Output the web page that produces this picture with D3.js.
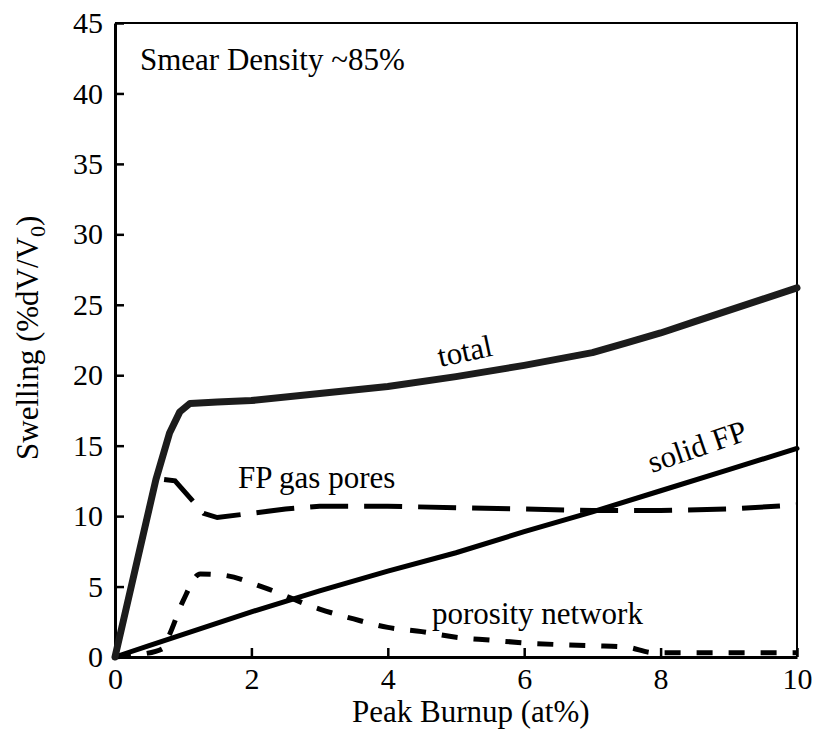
<!DOCTYPE html>
<html>
<head>
    <title>Swelling vs Peak Burnup</title>
    <script src="https://d3js.org/d3.v7.min.js"></script>
    <style>
        body { margin: 0; background: #fff; }
    </style>
</head>
<body>
    <div id="chart"></div>
    <script>
        // values
        var xTicks = [0, 2, 4, 6, 8, 10];
        var yTicks = [0, 5, 10, 15, 20, 25, 30, 35, 40, 45];

        var totalBurnup = [0, 0.3, 0.6, 0.8, 0.95, 1.1, 1.5, 2, 3, 4, 5, 6, 7, 7.5, 8, 8.5, 9, 9.5, 10];
        var totalSwell = [0, 6.3, 12.6, 15.9, 17.4, 18.0, 18.1, 18.2, 18.7, 19.2, 19.9, 20.7, 21.6, 22.3, 23.0, 23.8, 24.6, 25.4, 26.2];

        var solidBurnup = [0, 0.5, 1, 2, 3, 4, 5, 6, 7, 8, 9, 10];
        var solidSwell = [0, 0.8, 1.6, 3.2, 4.7, 6.1, 7.4, 8.9, 10.3, 11.8, 13.3, 14.8];

        var gasBurnup = [0.72, 0.88, 1.3, 1.5, 2, 2.5, 3, 4, 5, 6, 7, 8, 9, 10];
        var gasSwell = [12.6, 12.5, 10.2, 9.9, 10.2, 10.5, 10.7, 10.7, 10.6, 10.5, 10.4, 10.4, 10.5, 10.8];

        var poreBurnup = [0, 0.4, 0.7, 0.8, 1.0, 1.25, 1.6, 2.2, 3.0, 3.5, 4.0, 4.5, 5.0, 5.5, 6.0, 7.0, 7.5, 7.9, 10];
        var poreSwell = [0, 0.2, 0.6, 1.6, 4.0, 5.9, 5.8, 4.9, 3.4, 2.7, 2.1, 1.8, 1.4, 1.2, 1.0, 0.8, 0.7, 0.3, 0.3];

        var serif = "'Liberation Serif', 'Times New Roman', serif";

        var margin = {top: 23, right: 18, bottom: 85, left: 115},
            width = 815 - margin.left - margin.right,
            height = 742 - margin.top - margin.bottom;

        var svg = d3.select("#chart")
            .append("svg")
                .attr("width", 815)
                .attr("height", 742)
            .append("g")
                .attr("transform", "translate(" + margin.left + "," + margin.top + ")");

        var x = d3.scaleLinear().domain([0, 10]).range([0, width]);
        var y = d3.scaleLinear().domain([0, 45]).range([height, 0]);

        function pairs(xs, ys) {
            return xs.map(function(v, i) { return [v, ys[i]]; });
        }

        var line = d3.line()
            .x(function(d) { return x(d[0]); })
            .y(function(d) { return y(d[1]); });

        // frame (top and right)
        svg.append("path")
            .attr("d", "M0,0H" + width + "V" + height)
            .attr("fill", "none")
            .attr("stroke", "#000")
            .attr("stroke-width", 2);

        var yAxis = svg.append("g")
            .call(d3.axisLeft(y).tickValues(yTicks).tickSize(-9).tickSizeOuter(0).tickPadding(12));
        var xAxis = svg.append("g")
            .attr("transform", "translate(0," + height + ")")
            .call(d3.axisBottom(x).tickValues(xTicks).tickSize(-9).tickSizeOuter(0).tickPadding(11));

        [xAxis, yAxis].forEach(function(a) {
            a.select(".domain").attr("stroke-width", 3);
            a.selectAll(".tick line").attr("stroke-width", 2.5);
            a.selectAll(".tick text")
                .style("font-family", serif)
                .style("font-size", "30px")
                .attr("fill", "#000");
        });

        // curves
        svg.append("path")
            .datum(pairs(poreBurnup, poreSwell))
            .attr("d", line.curve(d3.curveMonotoneX))
            .attr("fill", "none")
            .attr("stroke", "#000")
            .attr("stroke-width", 5)
            .attr("stroke-dasharray", "16,16");

        svg.append("path")
            .datum(pairs(gasBurnup, gasSwell))
            .attr("d", line.curve(d3.curveLinear))
            .attr("fill", "none")
            .attr("stroke", "#000")
            .attr("stroke-width", 5)
            .attr("stroke-dasharray", "38,16");

        svg.append("path")
            .datum(pairs(solidBurnup, solidSwell))
            .attr("d", line.curve(d3.curveLinear))
            .attr("fill", "none")
            .attr("stroke", "#000")
            .attr("stroke-width", 5)
            .attr("stroke-linecap", "round");

        svg.append("path")
            .datum(pairs(totalBurnup, totalSwell))
            .attr("d", line.curve(d3.curveLinear))
            .attr("fill", "none")
            .attr("stroke", "#1c1c1c")
            .attr("stroke-width", 7)
            .attr("stroke-linecap", "round")
            .attr("stroke-linejoin", "round");

        function label(str, tf) {
            return svg.append("text")
                .attr("transform", tf)
                .style("font-family", serif)
                .style("font-size", "31px")
                .attr("fill", "#000")
                .text(str);
        }

        // labels in the plot
        label("Smear Density ~85%", "translate(25,47)");
        label("total", "translate(325,344) rotate(-12)");
        label("FP gas pores", "translate(123,465)");
        label("solid FP", "translate(537,450) rotate(-19)");
        label("porosity network", "translate(317,601)");

        // axis titles
        label("Peak Burnup (at%)", "translate(237," + (height + 65) + ")");

        var yl = label("", "translate(" + (38 - margin.left) + "," + (460 - margin.top) + ") rotate(-90)");
        yl.append("tspan").text("Swelling (%dV/V");
        yl.append("tspan").attr("dy", 7).style("font-size", "22px").text("0");
        yl.append("tspan").attr("dy", -7).text(")");
    </script>
</body>
</html>
